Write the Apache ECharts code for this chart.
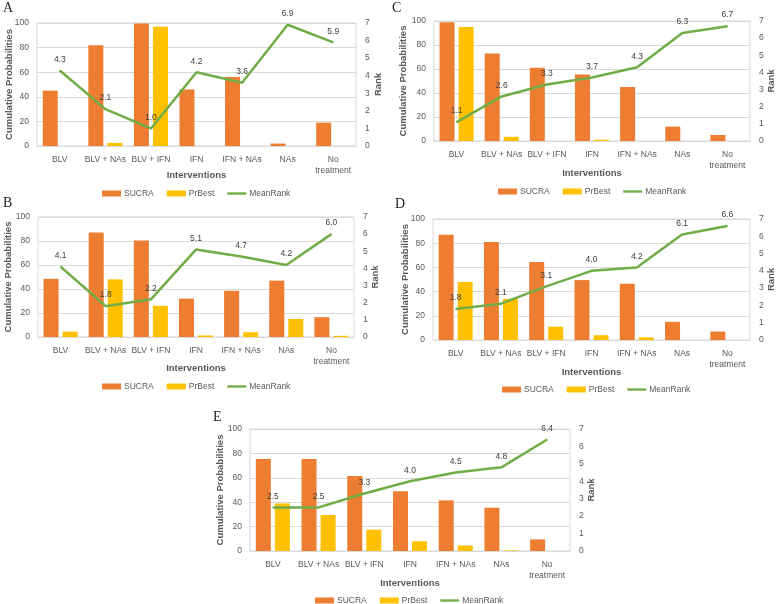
<!DOCTYPE html>
<html>
<head>
<meta charset="utf-8">
<script src="https://cdn.jsdelivr.net/npm/echarts@6/dist/echarts.min.js"></script>
<style>
html,body{margin:0;padding:0;background:#fff;}
#chart{width:777px;height:604px;}
</style>
</head>
<body>
<div id="chart"></div>
<script>
// ---- data ----
const categories = ['BLV', 'BLV + NAs', 'BLV + IFN', 'IFN', 'IFN + NAs', 'NAs', 'No treatment'];
const panelLetters = ['A', 'B', 'C', 'D', 'E'];
const seriesNames = ['SUCRA', 'PrBest', 'MeanRank'];

const sucraA = [45, 82, 99.5, 46, 56, 2, 19];
const prBestA = [0, 2.5, 97, 0, 0, 0, 0];
const meanRankA = [4.3, 2.1, 1.0, 4.2, 3.6, 6.9, 5.9];

const sucraB = [48.5, 87, 80.5, 32, 38.5, 47, 16.5];
const prBestB = [4.5, 48, 26, 1.3, 4, 15, 1];
const meanRankB = [4.1, 1.8, 2.2, 5.1, 4.7, 4.2, 6.0];

const sucraC = [99, 73, 61, 55.5, 45, 12, 5];
const prBestC = [95, 3.5, 0, 1, 0, 0, 0];
const meanRankC = [1.1, 2.6, 3.3, 3.7, 4.3, 6.3, 6.7];

const sucraD = [87, 81, 64.5, 49.5, 46.5, 15, 7];
const prBestD = [48, 34, 11, 4, 2.2, 0, 0];
const meanRankD = [1.8, 2.1, 3.1, 4.0, 4.2, 6.1, 6.6];

const sucraE = [75.5, 75.5, 61.5, 49, 41.5, 35.5, 9.5];
const prBestE = [39, 29.5, 17.5, 8, 4.5, 0.5, 0];
const meanRankE = [2.5, 2.5, 3.3, 4.0, 4.5, 4.8, 6.4];

const probAxis = { min: 0, max: 100, interval: 20 };
const rankAxis = { min: 0, max: 7, interval: 1 };

const panelData = [
  [sucraA, prBestA, meanRankA],
  [sucraB, prBestB, meanRankB],
  [sucraC, prBestC, meanRankC],
  [sucraD, prBestD, meanRankD],
  [sucraE, prBestE, meanRankE]
];

// ---- layout (positions only) ----
const layout = [
  { left: 37, top: 23, width: 319, height: 123, xGap: 24, lGap: 23, rGap: 17, legL: 102, legT: 189, letX: 3, letY: 1 },
  { left: 38, top: 217, width: 316, height: 120, xGap: 26, lGap: 25, rGap: 16, legL: 102, legT: 382, letX: 3, letY: 196 },
  { left: 434, top: 21, width: 317.5, height: 120, xGap: 27, lGap: 26, rGap: 16, legL: 498, legT: 187, letX: 392, letY: 1 },
  { left: 433, top: 219, width: 318, height: 121, xGap: 27, lGap: 23, rGap: 16, legL: 502, legT: 385, letX: 395, letY: 197 },
  { left: 250, top: 429, width: 320, height: 122, xGap: 27, lGap: 25, rGap: 16, legL: 315, legT: 596, letX: 213, letY: 410 }
];

const FONT = 'Liberation Sans';
const TXT = '#595959';
const GRID = '#D9D9D9';
const COLORS = ['#ED7D31', '#FFC000', '#70AD47'];

const grids = [], xAxes = [], yAxes = [], series = [], legends = [], graphics = [];

layout.forEach((L, i) => {
  grids.push({ left: L.left, top: L.top, width: L.width, height: L.height,
    show: true, borderColor: GRID, borderWidth: 1, containLabel: false });
  xAxes.push({
    type: 'category', gridIndex: i, data: categories,
    name: 'Interventions', nameLocation: 'middle', nameGap: L.xGap, nameMoveOverlap: false,
    nameTextStyle: { fontFamily: FONT, fontSize: 9.5, fontWeight: 'bold', color: TXT },
    axisLine: { show: true, lineStyle: { color: GRID } },
    axisTick: { show: false },
    axisLabel: { interval: 0, margin: 8, fontFamily: FONT, fontSize: 8.5, color: TXT, lineHeight: 11,
      formatter: v => v.replace('No treatment', 'No\ntreatment') }
  });
  yAxes.push({
    type: 'value', gridIndex: i, position: 'left',
    min: probAxis.min, max: probAxis.max, interval: probAxis.interval,
    name: 'Cumulative Probabilities', nameLocation: 'middle', nameRotate: 90, nameGap: L.lGap, nameMoveOverlap: false,
    nameTextStyle: { fontFamily: FONT, fontSize: 9.5, fontWeight: 'bold', color: TXT },
    axisLine: { show: false }, axisTick: { show: false },
    axisLabel: { margin: 8, fontFamily: FONT, fontSize: 8.5, color: TXT },
    splitLine: { show: true, lineStyle: { color: GRID, width: 1 } }
  });
  yAxes.push({
    type: 'value', gridIndex: i, position: 'right',
    min: rankAxis.min, max: rankAxis.max, interval: rankAxis.interval,
    name: 'Rank', nameLocation: 'middle', nameRotate: 90, nameGap: L.rGap, nameMoveOverlap: false,
    nameTextStyle: { fontFamily: FONT, fontSize: 9.5, fontWeight: 'bold', color: TXT },
    axisLine: { show: false }, axisTick: { show: false },
    axisLabel: { margin: 9, fontFamily: FONT, fontSize: 8.5, color: TXT },
    splitLine: { show: false }
  });
  const [suc, prb, mr] = panelData[i];
  series.push({
    name: seriesNames[0], type: 'bar', xAxisIndex: i, yAxisIndex: 2 * i,
    data: suc, barWidth: 15, barGap: '27%', itemStyle: { color: COLORS[0] }, animation: false
  });
  series.push({
    name: seriesNames[1], type: 'bar', xAxisIndex: i, yAxisIndex: 2 * i,
    data: prb, barWidth: 15, barGap: '27%', itemStyle: { color: COLORS[1] }, animation: false
  });
  series.push({
    name: seriesNames[2], type: 'line', xAxisIndex: i, yAxisIndex: 2 * i + 1,
    data: mr, symbol: 'circle', symbolSize: 1, showSymbol: true,
    lineStyle: { color: COLORS[2], width: 2.5 }, itemStyle: { color: COLORS[2] },
    label: { show: true, position: 'top', distance: 6, fontFamily: FONT, fontSize: 8.5, color: '#404040',
      formatter: p => Number(p.value).toFixed(1) },
    labelLayout: { hideOverlap: false },
    animation: false, z: 3
  });
  legends.push({
    left: L.legL, top: L.legT, orient: 'horizontal', selectedMode: false,
    itemWidth: 19, itemHeight: 6, itemGap: 13, padding: 0,
    textStyle: { fontFamily: FONT, fontSize: 8.5, color: TXT, padding: [0, 0, 0, -2] },
    data: [
      { name: 'SUCRA', icon: 'rect' },
      { name: 'PrBest', icon: 'rect' },
      { name: 'MeanRank', icon: 'path://M0,0H20V2.5H0Z', itemStyle: { color: COLORS[2] } }
    ]
  });
  graphics.push({
    type: 'text', left: L.letX, top: L.letY,
    style: { text: panelLetters[i], font: '14px "Liberation Serif"', fill: '#222' }
  });
});

const chart = echarts.init(document.getElementById('chart'), null, { renderer: 'canvas' });
chart.setOption({
  animation: false,
  backgroundColor: '#fff',
  grid: grids, xAxis: xAxes, yAxis: yAxes, series: series,
  legend: legends, graphic: graphics
});
</script>
</body>
</html>
